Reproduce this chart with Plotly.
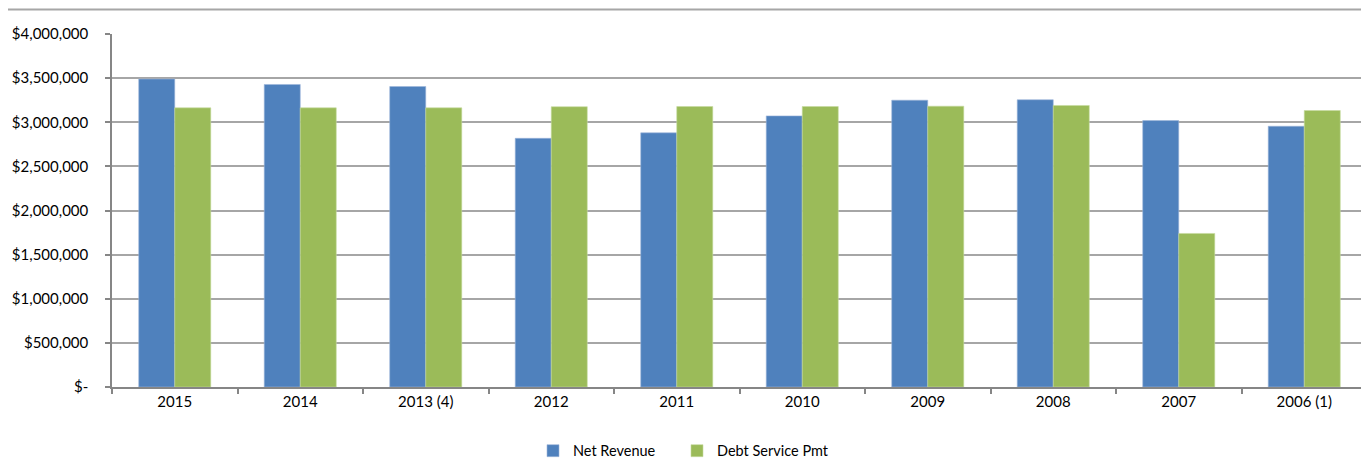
import plotly.graph_objects as go

categories = ["2015", "2014", "2013 (4)", "2012", "2011", "2010", "2009", "2008", "2007", "2006 (1)"]
net_revenue = [3490000, 3428000, 3405000, 2818000, 2880000, 3072000, 3250000, 3255000, 3019000, 2955000]
debt_service = [3163000, 3163000, 3163000, 3176000, 3178000, 3178000, 3182000, 3190000, 1740000, 3133000]
y_tick_vals = [0, 500000, 1000000, 1500000, 2000000, 2500000, 3000000, 3500000, 4000000]
y_tick_text = ["$-", "$500,000", "$1,000,000", "$1,500,000", "$2,000,000", "$2,500,000",
               "$3,000,000", "$3,500,000", "$4,000,000"]

font = "Lato, Open Sans, sans-serif"
W, H = 1369, 471

fig = go.Figure()
fig.add_trace(go.Bar(x=categories, y=net_revenue, name="Net Revenue", legend="legend",
                     marker=dict(color="#4F81BD", line=dict(color="#9DB6DA", width=0.6))))
fig.add_trace(go.Bar(x=categories, y=debt_service, name="Debt Service Pmt", legend="legend2",
                     marker=dict(color="#9BBB59", line=dict(color="#C6DAA0", width=0.6))))

leg_common = dict(orientation="h", xref="container", xanchor="left",
                  yref="container", y=0.06, yanchor="middle",
                  font=dict(family=font, size=14.5, color="#000000"),
                  itemwidth=30, bgcolor="rgba(0,0,0,0)")

fig.update_layout(
    width=W, height=H,
    margin=dict(l=104, r=10, t=26, b=92, autoexpand=False),
    paper_bgcolor="white", plot_bgcolor="white",
    barmode="group", bargap=0.426, bargroupgap=0,
    font=dict(family=font, size=15, color="#000000"),
    showlegend=True,
    legend=dict(x=525 / W, **leg_common),
    legend2=dict(x=669 / W, **leg_common),
    xaxis=dict(showgrid=False, showline=True, linecolor="#868686", linewidth=1.5,
               ticks="outside", tickson="boundaries", ticklen=5, tickcolor="#868686",
               tickwidth=1.5, tickfont=dict(family=font, size=15), automargin=False),
    yaxis=dict(range=[0, 4000000], tickvals=y_tick_vals, ticktext=y_tick_text,
               showgrid=True, gridcolor="#A6A6A6", gridwidth=1.5,
               showline=True, linecolor="#868686", linewidth=1.5,
               ticks="outside", ticklen=5, tickcolor="#868686", tickwidth=1.5,
               ticklabelstandoff=14,
               zeroline=False, tickfont=dict(family=font, size=15), automargin=False),
    shapes=[dict(type="line", xref="paper", yref="paper",
                 x0=-104/1255, x1=1 + 10/1255, y0=(379-2)/352.5, y1=(379-2)/352.5,
                 line=dict(color="#A6A6A6", width=2))],
)

fig.write_html("out.html")
